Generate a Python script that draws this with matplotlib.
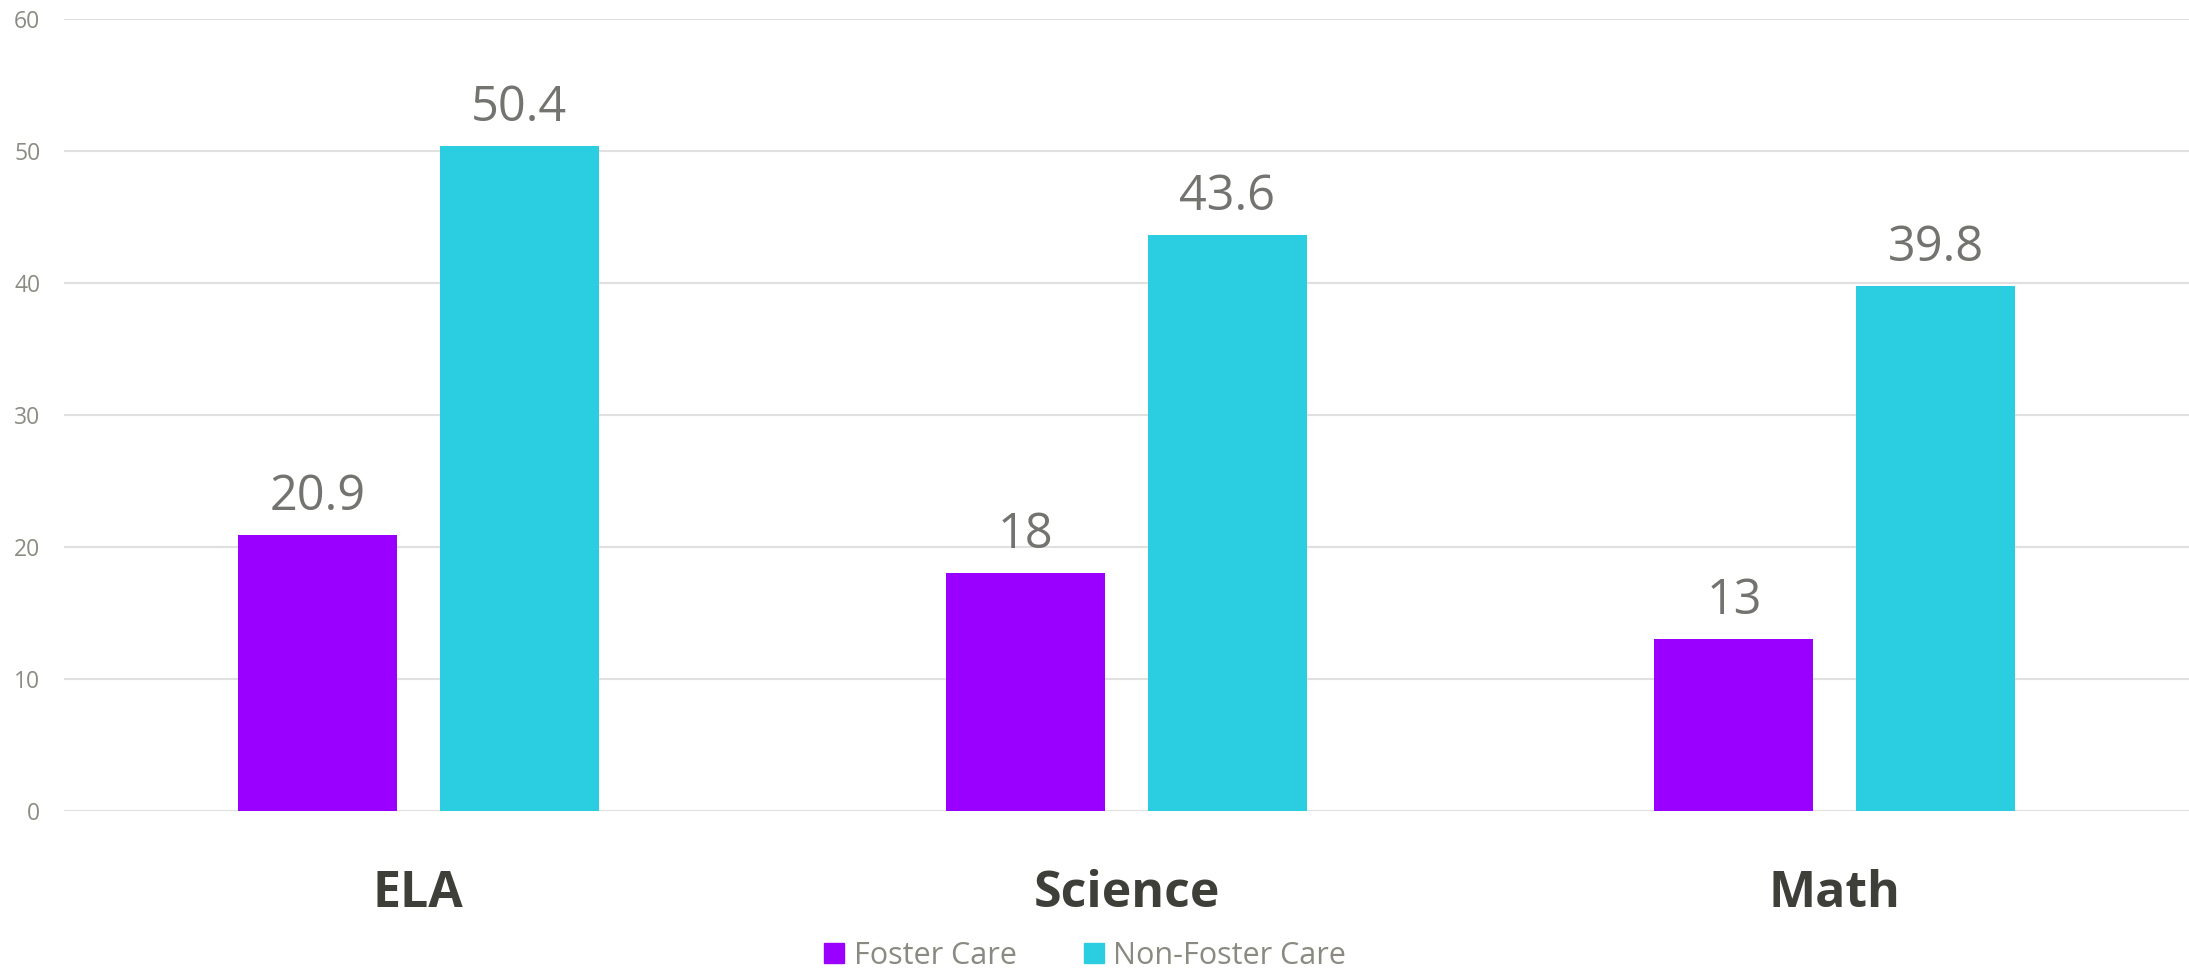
import matplotlib.pyplot as plt
from matplotlib.lines import Line2D

plt.rcParams['font.family'] = ['Open Sans', 'DejaVu Sans']

subjects = ['ELA', 'Science', 'Math']
foster = [20.9, 18, 13]
non_foster = [50.4, 43.6, 39.8]
series_names = ['Foster Care', 'Non-Foster Care']
yticks = [0, 10, 20, 30, 40, 50, 60]

purple = '#9900FF'
cyan = '#2BCDE1'

fig = plt.figure(figsize=(21.89, 9.69), dpi=100)
ax = fig.add_axes([0.02924, 0.1631, 0.97076, 0.8173])

width = 0.2246
offset = 0.1425
x = list(range(len(subjects)))
b1 = ax.bar([i - offset for i in x], foster, width, color=purple, zorder=2)
b2 = ax.bar([i + offset for i in x], non_foster, width, color=cyan, zorder=2)

# value labels above each bar
for bars, vals in [(b1, foster), (b2, non_foster)]:
    for rect, v in zip(bars, vals):
        ax.annotate(f'{v:g}', (rect.get_x() + rect.get_width() / 2, v),
                    xytext=(0, 18), textcoords='offset points',
                    ha='center', va='baseline', fontsize=35, color='#737370')

ax.set_xlim(-0.5, 2.5)
ax.set_ylim(0, 60)
ax.set_yticks(yticks)
ax.set_yticklabels([str(t) for t in yticks], fontsize=16.5, color='#8c8c84')
ax.tick_params(axis='y', length=0, pad=17)
ax.set_xticks([])
ax.grid(axis='y', color='#e0e0e0', linewidth=1.5, zorder=0)
for s in ax.spines.values():
    s.set_visible(False)

# category names under the groups
for i, name in enumerate(subjects):
    ax.text(i, -0.1212, name, transform=ax.get_xaxis_transform(),
            ha='center', va='baseline', fontsize=36, fontweight='bold',
            color='#3f3f3a')

handles = [Line2D([], [], marker='s', linestyle='none', markersize=14.4,
                  markerfacecolor=c, markeredgecolor=c) for c in (purple, cyan)]
fig.legend(handles, series_names, loc='center', bbox_to_anchor=(0.4957, 0.0135),
           ncol=2, frameon=False, fontsize=22, labelcolor='#8a8a82',
           handlelength=0.65, handletextpad=0.31, columnspacing=2.2)

fig.savefig('out.png', dpi=100)
